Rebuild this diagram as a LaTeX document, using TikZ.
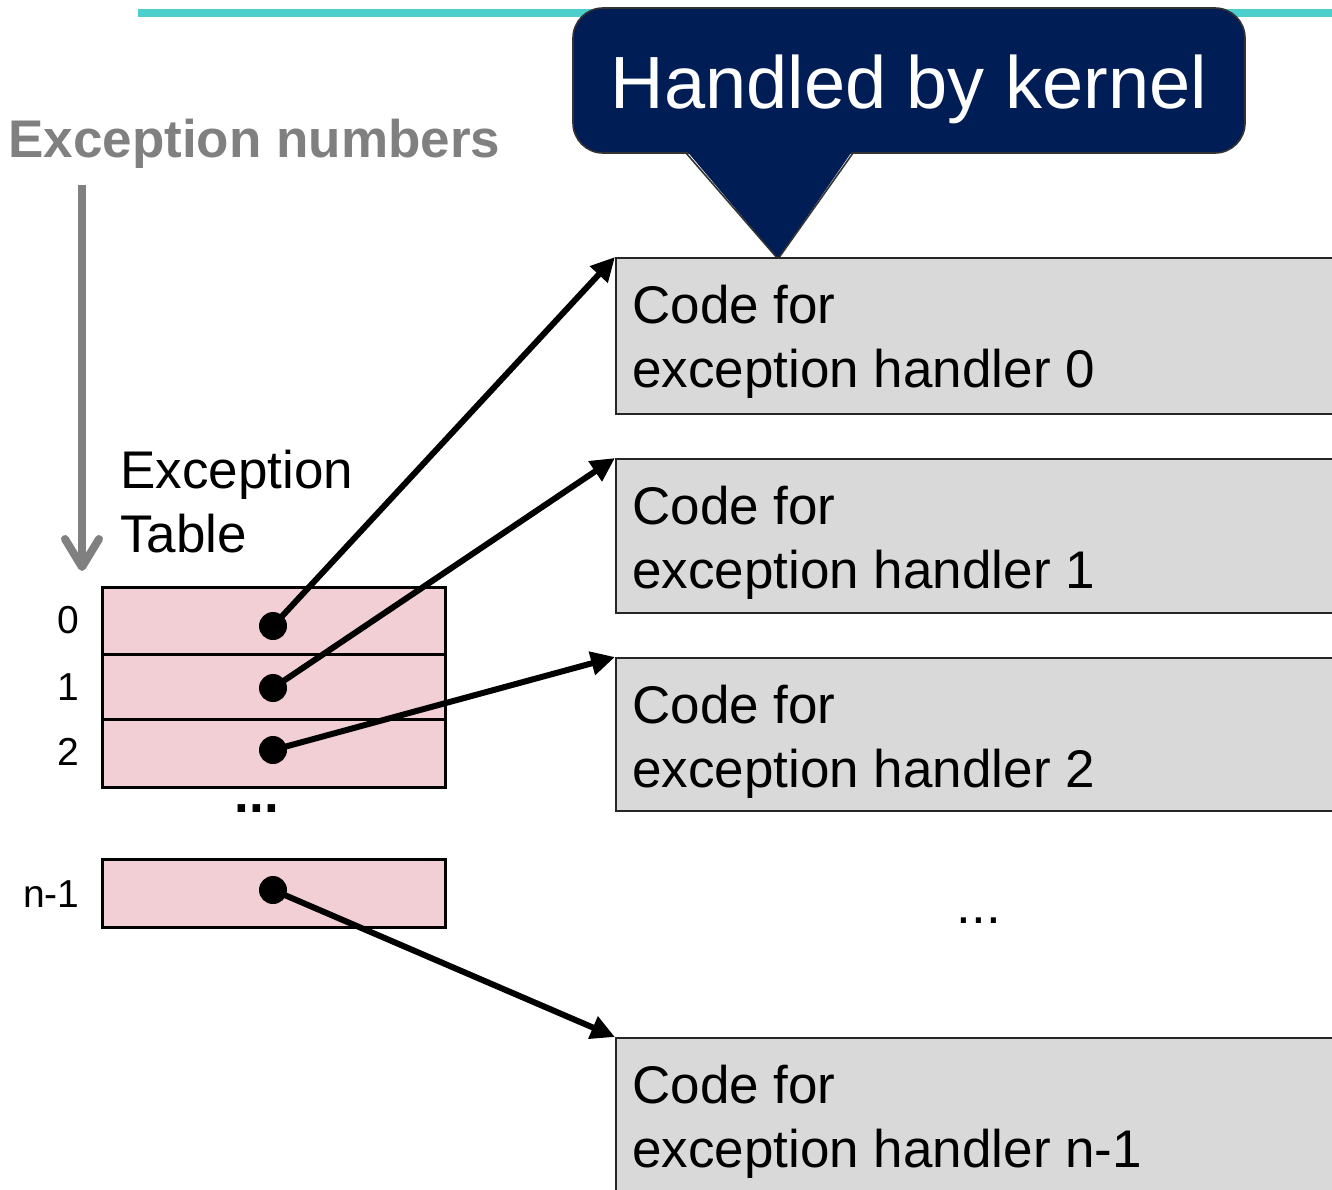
\documentclass[tikz,border=0pt]{standalone}
\usepackage{fontspec}
\setmainfont{Liberation Sans}
\usetikzlibrary{arrows.meta}
\definecolor{tealline}{RGB}{77,207,205}
\definecolor{navy}{RGB}{0,29,86}
\definecolor{slotpink}{RGB}{242,207,212}
\definecolor{codegray}{RGB}{217,217,217}
\definecolor{labelgray}{RGB}{128,128,128}
\begin{document}
\begin{tikzpicture}[x=0.5pt,y=-0.5pt,
  bodyfont/.style={font=\fontsize{26.5pt}{32pt}\selectfont},
  slot/.style={draw=black,line width=1.3pt,fill=slotpink,minimum width=171.5pt,inner sep=0pt,anchor=north west},
  idx/.style={font=\fontsize{19.5pt}{23pt}\selectfont,anchor=base east,inner sep=0pt},
  ptr/.style={circle,fill=black,inner sep=0pt,minimum size=14pt},
  codebox/.style={draw=black!85,line width=1pt,fill=codegray,minimum width=400pt,inner sep=0pt,anchor=north west},
  codetext/.style={bodyfont,align=left,anchor=north west,inner sep=0pt},
  link/.style={line width=3pt,-{Triangle[length=12pt,width=11.5pt]}},
  kernelbox/.style={draw=black!80,line width=0.8pt,fill=navy,rounded corners=15pt,
    minimum width=336pt,minimum height=72.5pt,inner sep=0pt,text=white,
    font=\fontsize{37pt}{44pt}\selectfont,text height=27.5pt,text depth=0pt},
]
\useasboundingbox (0,0) rectangle (1332,1189);

% header rule
\draw[tealline,line width=4pt] (138,13) -- (1332,13);

% callout
\node[kernelbox] (kern) at (909,80.5) {Handled by kernel};
\fill[navy] (686,150) -- (778,259) -- (853,150) -- cycle;
\draw[black!80,line width=0.8pt] (686,153) -- (778,259) -- (853,153);

% exception numbers
\node[bodyfont,font=\fontsize{26.5pt}{32pt}\selectfont\bfseries,text=labelgray,anchor=base west,inner sep=0pt]
  (excnum) at (8,157) {Exception numbers};
\coordinate (numtop) at (82,185);
\coordinate (numbot) at (82,571);
\draw[labelgray,line width=4pt,-{Straight Barb[length=14pt,width=17pt,round]}] (numtop) -- (numbot);

% table title
\node[codetext] (tbltitle) at (120,443.2) {\strut Exception\\Table};

% table slots
\node[slot,minimum height=33.5pt] (r0) at (101,586) {};
\node[slot,minimum height=32.5pt] (r1) at (101,653) {};
\node[slot,minimum height=34pt]   (r2) at (101,718) {};
\node[slot,minimum height=34pt]   (rn) at (101,858) {};

\node[idx] (i0) at (80,633) {0};
\node[idx] (i1) at (80,700) {1};
\node[idx] (i2) at (80,765.5) {2};
\node[idx] (in) at (80,907) {n-1};

\node[bodyfont,font=\fontsize{26.5pt}{32pt}\selectfont\bfseries,anchor=base,inner sep=0pt] (tdots) at (257,812) {...};

% handler code blocks
\node[codebox,minimum height=78pt]   (h0) at (615,257) {};
\node[codebox,minimum height=77pt]   (h1) at (615,458) {};
\node[codebox,minimum height=76.5pt] (h2) at (615,657) {};
\node[codebox,minimum height=100pt]  (hn) at (615,1037) {};

\node[codetext] (t0) at (632,278.2)  {\strut Code for\\exception handler 0};
\node[codetext] (t1) at (632,479.2)  {\strut Code for\\exception handler 1};
\node[codetext] (t2) at (632,678.2)  {\strut Code for\\exception handler 2};
\node[codetext] (tn) at (632,1058.2) {\strut Code for\\exception handler n-1};

\node[bodyfont,anchor=base,inner sep=0pt] (cdots) at (979,923) {...};

% pointers
\node[ptr] (d0) at (273,626) {};
\node[ptr] (d1) at (273,688) {};
\node[ptr] (d2) at (273,750) {};
\node[ptr] (dn) at (273,890) {};

\draw[link] (d0.center) -- (h0.north west);
\draw[link] (d1.center) -- (h1.north west);
\draw[link] (d2.center) -- (h2.north west);
\draw[link] (dn.center) -- (hn.north west);
\end{tikzpicture}
\end{document}
